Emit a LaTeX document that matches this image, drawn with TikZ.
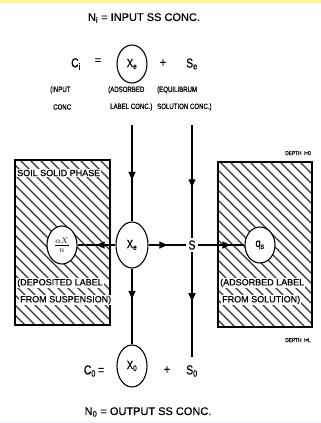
\documentclass[tikz,border=0pt]{standalone}
\usepackage{fontspec}
\setmainfont{Liberation Sans}[FakeBold=0.6]
\newfontfamily\condfont[FakeStretch=0.8,FakeBold=0.6]{Liberation Sans}
\usetikzlibrary{shapes.geometric,arrows.meta,decorations.markings}
\begin{document}
\begin{tikzpicture}[x=1pt,y=-1pt,
  big/.style={font=\fontsize{11}{12}\selectfont, inner sep=0pt},
  eqn/.style={font=\condfont\fontsize{13}{14}\selectfont, inner sep=0pt},
  small/.style={font=\condfont\fontsize{7.6}{9}\selectfont, inner sep=0pt, anchor=west},
  boxlbl/.style={font=\fontsize{9}{10}\selectfont, inner sep=1pt, fill=white, anchor=west},
  tiny/.style={font=\condfont\fontsize{6}{7}\selectfont, inner sep=0pt},
  ell/.style={draw, ellipse, line width=1.1pt, inner sep=0pt, fill=white, font=\condfont\fontsize{12}{13}\selectfont},
  conn/.style={line width=1.1pt},
  hatch/.style={line width=1.1pt, black!80},
  boxline/.style={line width=1.2pt},
  midarrow/.style={postaction={decorate}, decoration={markings,
     mark=at position #1 with {\arrow{Triangle[length=8pt,width=7pt]}}}}
]
\useasboundingbox (0,0) rectangle (321,423);
\fill[yellow!45] (0,0) rectangle (321,2.5);
\fill[cyan!8] (0,420.5) rectangle (321,423);

% top equation
\node[big] (ni) at (144,18) {N\textsubscript{i} = INPUT SS CONC.};
\node[eqn] (ci) at (76,64) {C\textsubscript{i}};
\node[big] (eq1) at (98,61) {=};
\node[ell, minimum width=30pt, minimum height=38pt] (xe0) at (132,64) {X\textsubscript{e}};
\node[eqn] (p1) at (163,63) {+};
\node[eqn] (se) at (192,64) {S\textsubscript{e}};
\node[small] (l1a) at (50,90) {(INPUT};
\node[small] (l1b) at (53,107) {CONC};
\node[small] (l2a) at (108,90) {(ADSORBED};
\node[small] (l2b) at (110,107) {LABEL CONC.)};
\node[small] (l3a) at (157,90) {(EQUILIBRUM};
\node[small] (l3b) at (157,107) {SOLUTION CONC.)};

% boxes with hatching
\begin{scope}
  \clip (15,160) rectangle (110,325);
  \foreach \i in {-210,-200,...,120} \draw[hatch] (\i,160) -- ++(200,200);
\end{scope}
\draw[boxline] (15,160) rectangle (110,325);
\begin{scope}
  \clip (218,162) rectangle (312,327);
  \foreach \i in {-210,-200,...,320} \draw[hatch] (\i,162) -- ++(200,200);
\end{scope}
\draw[boxline] (218,162) rectangle (312,327);

\node[boxlbl] (soil) at (16,173) {SOIL SOLID PHASE};
\node[boxlbl] (dep1) at (16,283) {(DEPOSITED LABEL};
\node[boxlbl] (dep2) at (19,300) {FROM SUSPENSION)};
\node[boxlbl] (ads1) at (219,283) {(ADSORBED LABEL};
\node[boxlbl] (ads2) at (221,300) {FROM SOLUTION)};

\node[tiny] (d0) at (298,153) {DEPTH \ l=0};
\node[tiny] (dl) at (298,340) {DEPTH \ l=L};

% middle row
\node[ell, minimum width=32pt, minimum height=46pt] (xe) at (132,245) {X\textsubscript{e}};
\node[eqn, inner sep=2pt] (s) at (192,245) {S};
\node[ell, minimum width=30pt, minimum height=38pt] (dep) at (62,245) {$\frac{\alpha X}{n}$};
\node[ell, minimum width=30pt, minimum height=36pt] (qs) at (260,245) {q\textsubscript{s}};

% bottom equation
\node[ell, minimum width=30pt, minimum height=42pt] (x0) at (132,366) {X\textsubscript{0}};
\node[eqn] (c0) at (94,371) {C\textsubscript{0}\,=};
\node[eqn] (p2) at (167,370) {+};
\node[eqn] (s0) at (192,371) {S\textsubscript{0}};
\node[big] (n0) at (148,412) {N\textsubscript{0} = OUTPUT SS CONC.};

\coordinate (t1) at (132,125);
\coordinate (t2) at (192,125);
\coordinate (b2) at (192,357);

% connectors
\draw[conn, midarrow=0.57] (t1) -- (xe.north);
\draw[conn, midarrow=0.55] (t2) -- (s.north);
\draw[conn, midarrow=0.4] (xe.south) -- (x0.north);
\draw[conn, midarrow=0.47] (s.south) -- (b2);
\draw[conn, midarrow=0.5] (xe.west) -- (dep.east);
\draw[conn, midarrow=0.5] (xe.east) -- (s.west);
\draw[conn, midarrow=0.7] (s.east) -- (qs.west);
\end{tikzpicture}
\end{document}
